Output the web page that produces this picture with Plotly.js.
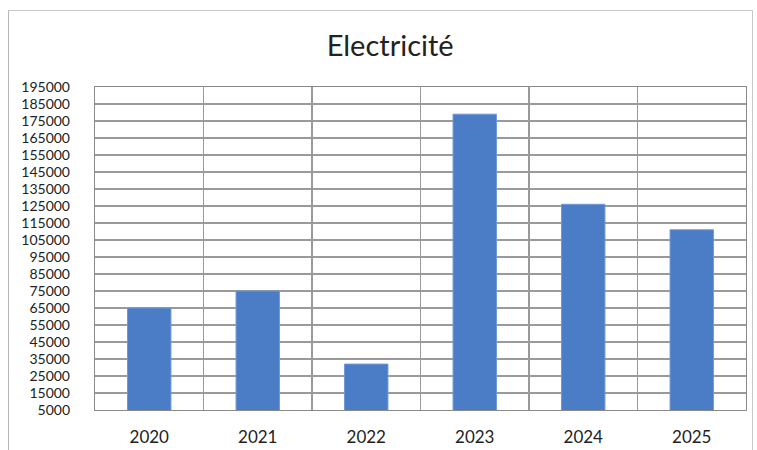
<!DOCTYPE html>
<html>
<head>
<meta charset="utf-8">
<script src="https://cdn.plot.ly/plotly-3.0.1.min.js"></script>
<style>
html,body{margin:0;padding:0;background:#fff;width:757px;height:450px;overflow:hidden;}
#frame{position:absolute;left:8px;top:10px;width:745px;height:440px;border-left:1.5px solid #b5b5b5;border-top:1.5px solid #c8c8c8;border-right:1.5px solid #c8c8c8;box-sizing:border-box;}
#chart{position:absolute;left:0;top:0;width:743px;height:440px;}
</style>
</head>
<body>
<div id="frame"><div id="chart"></div></div>
<script>
const categories = ["2020", "2021", "2022", "2023", "2024", "2025"];
const values = [65000, 75000, 32000, 179000, 126000, 111000];
const chartTitle = "Electricité";
const yTickStart = 5000;
const yTickEnd = 195000;
const yTickStep = 10000;

const fontFam = "Lato, 'Liberation Sans', sans-serif";

const trace = {
  type: "bar",
  x: categories,
  y: values,
  width: 0.4,
  marker: {color: "#4b7cc6", line: {color: "#6f98d6", width: 1}},
  hoverinfo: "x+y"
};

const layout = {
  width: 743,
  height: 440,
  margin: {l: 86, r: 6, t: 76, b: 41, pad: 0},
  paper_bgcolor: "#ffffff",
  plot_bgcolor: "#ffffff",
  showlegend: false,
  title: {
    text: chartTitle,
    x: 0.513,
    xanchor: "center",
    y: 0.92,
    yanchor: "middle",
    font: {family: fontFam, size: 29, color: "#222222"}
  },
  xaxis: {
    type: "category",
    tickson: "boundaries",
    showgrid: true,
    gridcolor: "#9a9a9a",
    gridwidth: 1.2,
    showline: true,
    linecolor: "#8a8a8a",
    linewidth: 1.2,
    mirror: true,
    ticks: "",
    ticklabelstandoff: 11,
    tickfont: {family: fontFam, size: 17, color: "#222222"},
    fixedrange: true
  },
  yaxis: {
    range: [yTickStart, yTickEnd],
    tick0: yTickStart,
    dtick: yTickStep,
    tickmode: "linear",
    showgrid: true,
    gridcolor: "#9a9a9a",
    gridwidth: 1.2,
    showline: true,
    linecolor: "#8a8a8a",
    linewidth: 1.2,
    mirror: true,
    zeroline: false,
    ticks: "",
    ticklabelstandoff: 21,
    tickformat: "d",
    tickfont: {family: fontFam, size: 14, color: "#222222"},
    fixedrange: true
  },
  bargap: 0.6
};

Plotly.newPlot("chart", [trace], layout, {displayModeBar: false, staticPlot: true});
</script>
</body>
</html>
